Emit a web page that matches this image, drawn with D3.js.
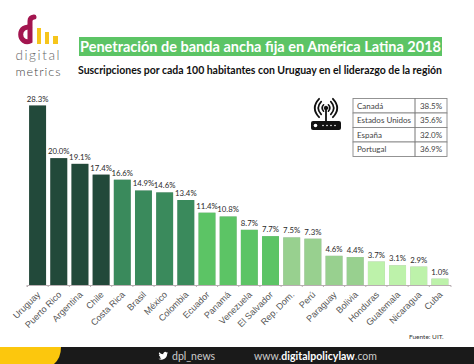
<!DOCTYPE html>
<html>
<head>
<meta charset="utf-8">
<script src="https://cdn.jsdelivr.net/npm/d3@7"></script>
<style>
    html, body { margin: 0; padding: 0; background: #fff; }
    svg { display: block; font-family: Lato, "Open Sans", sans-serif; }
    .axis path, .axis line { stroke: #b9aeb2; }
    .axis text { fill: #555; font-size: 9px; }
</style>
</head>
<body>
<script>
// Bars
const countries = ['Uruguay', 'Puerto Rico', 'Argentina', 'Chile', 'Costa Rica', 'Brasil', 'México', 'Colombia',
    'Ecuador', 'Panamá', 'Venezuela', 'El Salvador', 'Rep. Dom.', 'Perú', 'Paraguay', 'Bolivia',
    'Honduras', 'Guatemala', 'Nicaragua', 'Cuba'];
const penetration = [28.3, 20.0, 19.1, 17.4, 16.6, 14.9, 14.6, 13.4, 11.4, 10.8, 8.7, 7.7, 7.5, 7.3, 4.6, 4.4, 3.7, 3.1, 2.9, 1.0];
const shades = ['#22493a', '#22493a', '#22493a', '#22493a', '#3a8a5c', '#3a8a5c', '#3a8a5c', '#3a8a5c',
    '#5cc465', '#5cc465', '#5cc465', '#5cc465', '#98d08f', '#98d08f', '#98d08f', '#98d08f',
    '#bdf2aa', '#bdf2aa', '#bdf2aa', '#bdf2aa'];

// Comparison table
const otherCountries = ['Canadá', 'Estados Unidos', 'España', 'Portugal'];
const otherValues = ['38.5%', '35.6%', '32.0%', '36.9%'];

const visWidth = 474, visHeight = 364;
const pct = d => d.toFixed(1) + '%';

const svg = d3.select('body').append('svg')
    .attr('width', visWidth)
    .attr('height', visHeight);

/**
 * Logo.
 */
const logo = svg.append('g').attr('class', 'logo');
logo.append('path')
    .attr('d', 'M30,28 A6.5,7.2 0 1 0 30,41 L30,21 Q30,17.5 34,17')
    .attr('fill', 'none')
    .attr('stroke', '#a3154f')
    .attr('stroke-width', 5)
    .attr('stroke-linecap', 'round');
[[37, 28, 4], [45, 32, 4], [53, 36, 5]].forEach(b => {
    logo.append('rect')
        .attr('x', b[0]).attr('y', b[1])
        .attr('width', b[2]).attr('height', 44 - b[1])
        .attr('fill', '#f6c51b');
});
logo.append('text').attr('x', 15.5).attr('y', 60).attr('textLength', 44)
    .attr('font-size', 13.5).attr('font-weight', 300).attr('fill', '#666').text('digital');
logo.append('text').attr('x', 15.5).attr('y', 75.5).attr('textLength', 45)
    .attr('font-size', 12.5).attr('font-weight', 300).attr('fill', '#444').text('metrics');

/**
 * Titles.
 */
svg.append('rect')
    .attr('x', 79).attr('y', 37).attr('width', 363).attr('height', 19)
    .attr('fill', '#5cc465');
svg.append('text')
    .attr('x', 80).attr('y', 52).attr('textLength', 361)
    .attr('font-size', 14.5).attr('font-weight', 700).attr('fill', '#fff')
    .text('Penetración de banda ancha fija en América Latina 2018');
svg.append('text')
    .attr('x', 78).attr('y', 73.5).attr('textLength', 364)
    .attr('font-size', 10.5).attr('font-weight', 700).attr('fill', '#111')
    .text('Suscripciones por cada 100 habitantes con Uruguay en el liderazgo de la región');

/**
 * Chart.
 */
const xScale = d3.scaleBand()
    .domain(countries)
    .range([27, 450.5])
    .paddingInner(0.2)
    .paddingOuter(0.1);
const yScale = d3.scaleLinear()
    .domain([0, 28.3])
    .range([285, 105.5]);

const chart = svg.append('g').attr('class', 'chart');

chart.selectAll('.bar').data(countries).enter().append('rect')
    .attr('class', 'bar')
    .attr('x', d => xScale(d))
    .attr('y', (d, i) => yScale(penetration[i]))
    .attr('width', xScale.bandwidth())
    .attr('height', (d, i) => yScale(0) - yScale(penetration[i]))
    .attr('fill', (d, i) => shades[i])
    .style('filter', 'drop-shadow(0.8px 0 0.4px #b5b5b5)');

chart.selectAll('.value').data(countries).enter().append('text')
    .attr('class', 'value')
    .attr('x', d => xScale(d) + xScale.bandwidth() / 2)
    .attr('y', (d, i) => yScale(penetration[i]) - 4)
    .attr('text-anchor', 'middle')
    .attr('font-size', 7.8)
    .attr('fill', '#2a2a2a')
    .text((d, i) => pct(penetration[i]));

const xAxis = chart.append('g')
    .attr('class', 'axis')
    .attr('transform', 'translate(0,285)')
    .call(d3.axisBottom(xScale).tickSizeOuter(0).tickSize(2));
xAxis.selectAll('.tick line')
    .attr('transform', 'translate(' + (-xScale.step() / 2) + ',0)');
xAxis.selectAll('.tick text')
    .attr('text-anchor', 'end')
    .attr('y', 0)
    .attr('dy', '0.35em')
    .attr('transform', 'translate(1,8) rotate(-45)');

/**
 * Router icon.
 */
const router = svg.append('g').attr('class', 'router')
    .attr('fill', 'none').attr('stroke', '#111').attr('stroke-linecap', 'round');
router.append('rect').attr('x', 311).attr('y', 121).attr('width', 30).attr('height', 9).attr('rx', 2)
    .attr('fill', '#111').attr('stroke', 'none');
router.append('path').attr('d', 'M326,121 V108').attr('stroke-width', 1.8);
router.append('circle').attr('cx', 326).attr('cy', 108).attr('r', 1.8).attr('fill', '#111');
[[4, 1.6], [8, 1.7], [11.5, 1.8]].forEach(a => {
    router.append('path').attr('stroke-width', a[1])
        .attr('d', 'M' + (326 - a[0] * 0.6) + ',' + (108 - a[0] * 0.8) + ' Q' + (326 - a[0] * 1.35) + ',108 ' + (326 - a[0] * 0.6) + ',' + (108 + a[0] * 0.8));
    router.append('path').attr('stroke-width', a[1])
        .attr('d', 'M' + (326 + a[0] * 0.6) + ',' + (108 - a[0] * 0.8) + ' Q' + (326 + a[0] * 1.35) + ',108 ' + (326 + a[0] * 0.6) + ',' + (108 + a[0] * 0.8));
});
router.append('circle').attr('cx', 315.5).attr('cy', 125.5).attr('r', 1.8).attr('fill', '#fff').attr('stroke', 'none');
[323, 327, 331, 335].forEach(x => {
    router.append('circle').attr('cx', x).attr('cy', 125.5).attr('r', 0.8).attr('fill', '#fff').attr('stroke', 'none');
});

/**
 * Comparison table.
 */
const tableX = 353, tableDivider = 415, tableEnd = 447, tableTop = 98.5, rowHeight = 14.5;
const rows = svg.append('g').attr('class', 'table').selectAll('g').data(otherCountries).enter().append('g')
    .attr('transform', (d, i) => 'translate(0,' + (tableTop + i * rowHeight) + ')');
rows.append('rect')
    .attr('x', tableX).attr('width', tableEnd - tableX).attr('height', rowHeight)
    .attr('fill', '#fff').attr('stroke', '#888').attr('stroke-width', 0.9);
rows.append('line')
    .attr('x1', tableDivider).attr('x2', tableDivider).attr('y2', rowHeight)
    .attr('stroke', '#666').attr('stroke-width', 0.9);
rows.append('text')
    .attr('x', 357).attr('y', 10.2).attr('font-size', 8).attr('fill', '#444')
    .text(d => d);
rows.append('text')
    .attr('x', 431).attr('y', 10.2).attr('text-anchor', 'middle').attr('font-size', 8).attr('fill', '#444')
    .text((d, i) => otherValues[i]);

/**
 * Source and footer.
 */
svg.append('text')
    .attr('x', 409).attr('y', 339).attr('font-size', 6.5).attr('fill', '#333')
    .text('Fuente: UIT.');

svg.append('rect').attr('y', 347).attr('width', visWidth).attr('height', 17).attr('fill', '#1a1a1a');
svg.append('path')
    .attr('d', 'M0,347 H61 Q61,358 54,364 H0 Z')
    .attr('fill', '#fcc70d');

// Twitter bird
svg.append('path')
    .attr('transform', 'translate(158.5,351) scale(0.4)')
    .attr('fill', '#fff')
    .attr('d', 'M23.95 4.57a10 10 0 0 1-2.82.77 4.96 4.96 0 0 0 2.16-2.72 9.9 9.9 0 0 1-3.13 1.19 4.92 4.92 0 0 0-8.38 4.48A13.98 13.98 0 0 1 1.64 3.16a4.92 4.92 0 0 0 1.52 6.57 4.9 4.9 0 0 1-2.23-.61v.06a4.92 4.92 0 0 0 3.95 4.83 4.9 4.9 0 0 1-2.22.08 4.93 4.93 0 0 0 4.6 3.42A9.87 9.87 0 0 1 0 19.54a13.94 13.94 0 0 0 7.55 2.21c9.05 0 14-7.5 14-13.98 0-.21 0-.42-.02-.63a10 10 0 0 0 2.46-2.55z');

svg.append('text')
    .attr('x', 172).attr('y', 360).attr('font-size', 10.5).attr('fill', '#ccc')
    .text('dpl_news');

const site = svg.append('text')
    .attr('x', 254).attr('y', 360).attr('textLength', 123)
    .attr('font-size', 10.5).attr('fill', '#ccc');
site.append('tspan').text('www.');
site.append('tspan').attr('font-weight', 700).attr('fill', '#fff').text('digitalpolicylaw');
site.append('tspan').text('.com');
</script>
</body>
</html>
